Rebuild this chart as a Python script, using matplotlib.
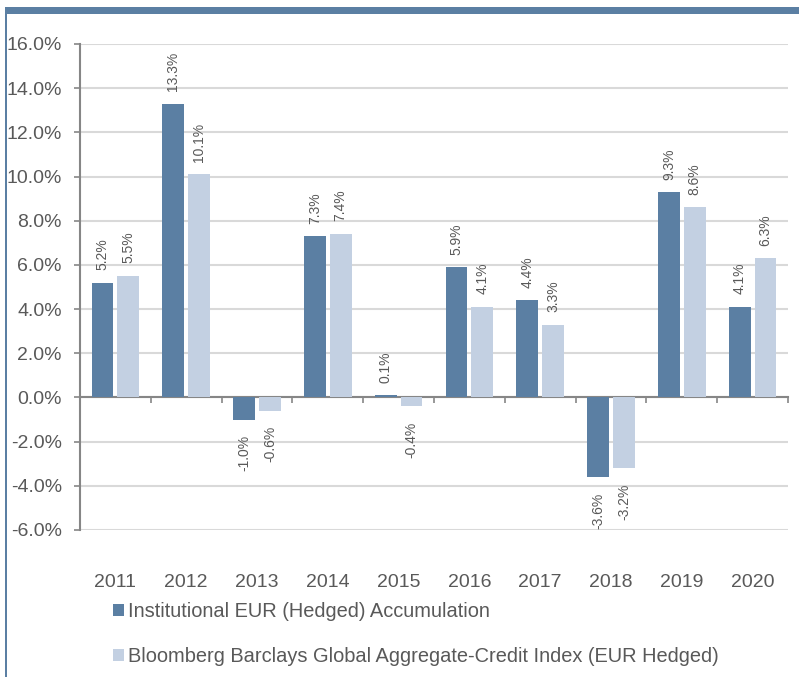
import matplotlib
matplotlib.use("Agg")
import matplotlib.pyplot as plt
import matplotlib.transforms as mtransforms
from matplotlib.patches import Rectangle, Patch
import numpy as np

plt.rcParams['font.family'] = ['Liberation Sans', 'DejaVu Sans']

years = ["2011", "2012", "2013", "2014", "2015", "2016", "2017", "2018", "2019", "2020"]
fund = [5.2, 13.3, -1.0, 7.3, 0.1, 5.9, 4.4, -3.6, 9.3, 4.1]
index = [5.5, 10.1, -0.6, 7.4, -0.4, 4.1, 3.3, -3.2, 8.6, 6.3]
series_names = ["Institutional EUR (Hedged) Accumulation",
                "Bloomberg Barclays Global Aggregate-Credit Index (EUR Hedged)"]
yticks = [-6, -4, -2, 0, 2, 4, 6, 8, 10, 12, 14, 16]

dark = "#5b7fa3"
light = "#c3d0e2"
txt = "#595959"

W, H = 799, 677
fig = plt.figure(figsize=(W / 100, H / 100), dpi=100)
ax = fig.add_axes([80 / W, 1 - 530 / H, (788 - 80) / W, (530 - 44) / H])

x = np.arange(len(years)) + 0.5
bw = 0.31
gap = 0.055
b1 = ax.bar(x - gap / 2 - bw / 2, fund, bw, color=dark, zorder=3)
b2 = ax.bar(x + gap / 2 + bw / 2, index, bw, color=light, zorder=3)

for bars, vals in ((b1, fund), (b2, index)):
    for rect, v in zip(bars, vals):
        cx = rect.get_x() + rect.get_width() / 2
        if v >= 0:
            ax.annotate(f"{v:.1f}%", (cx, v), xytext=(0, 9), textcoords="offset points",
                        rotation=90, ha="center", va="bottom", fontsize=10, color=txt)
        else:
            ax.annotate(f"{v:.1f}%", (cx, v), xytext=(0, -11), textcoords="offset points",
                        rotation=90, ha="center", va="top", fontsize=10, color=txt)

ax.set_xlim(0, len(years))
ax.set_ylim(-6, 16)
ax.set_yticks(yticks)
ax.set_yticklabels([f"{t:.1f}%" for t in yticks], fontsize=14, color=txt)
ax.yaxis.grid(True, color="#d9d9d9", linewidth=1.5, zorder=0)
ax.set_axisbelow(True)
ax.tick_params(axis="y", length=4, width=1.2, color="#868686", pad=9)

ax.spines["top"].set_visible(False)
ax.spines["right"].set_visible(False)
ax.spines["left"].set_color("#868686")
ax.spines["left"].set_linewidth(1.5)
ax.spines["bottom"].set_position(("data", 0))
ax.spines["bottom"].set_color("#868686")
ax.spines["bottom"].set_linewidth(1.5)
ax.set_xticks(np.arange(len(years) + 1))
ax.set_xticklabels([])
ax.tick_params(axis="x", length=4, width=1.2, color="#868686", direction="out")

trans = mtransforms.blended_transform_factory(ax.transData, ax.transAxes)
for xi, yr in zip(x, years):
    ax.text(xi, -0.107, yr, transform=trans, ha="center", va="center", fontsize=14, color=txt)

handles = [Patch(facecolor=dark), Patch(facecolor=light)]
leg = fig.legend(handles, series_names, loc="upper left",
                 bbox_to_anchor=(113 / W, 1 - 602 / H), frameon=False,
                 fontsize=14.4, labelspacing=1.3, handlelength=0.55, handleheight=0.55,
                 handletextpad=0.2, borderaxespad=0, borderpad=0)
for t in leg.get_texts():
    t.set_color(txt)

# decorative border
fig.patches.append(Rectangle((6 / W, 1 - 14 / H), 1 - 6 / W, 7 / H, transform=fig.transFigure,
                             facecolor=dark, edgecolor="none"))
fig.patches.append(Rectangle((5 / W, 0), 2.5 / W, 1 - 7 / H, transform=fig.transFigure,
                             facecolor=dark, edgecolor="none"))

fig.savefig("out.png", dpi=100)
